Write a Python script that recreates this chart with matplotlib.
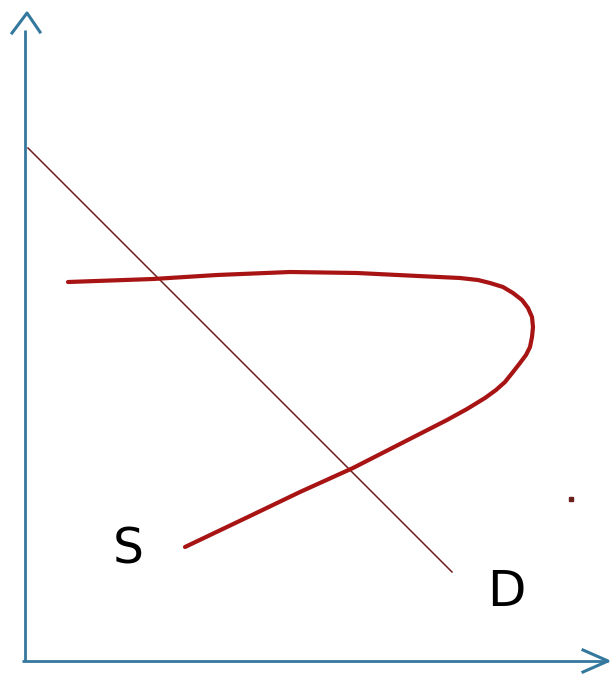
import numpy as np
from matplotlib import pyplot as plt

# backward-bending supply curve (quantity, price), origin at the axes corner
supply_q = [43, 128, 192, 265, 332, 393, 435, 453, 465, 478, 488, 497, 503,
            507, 508, 507, 505, 501, 495, 488, 480, 471, 460, 442, 422, 375,
            328, 275, 225, 160]
supply_p = [379, 382, 386, 389, 388, 385, 383, 381, 378, 374, 368, 361, 353,
            344, 334, 324, 314, 306, 298, 289, 279, 271, 263, 252, 241, 217,
            193, 169, 145, 114]

# straight demand line
demand_q = [3, 427]
demand_p = [513, 89]

# axes with hand-drawn arrow heads
y_axis_q = [0, 0]
y_axis_p = [0, 631]
y_arrow_q = [-13, 2, 15]
y_arrow_p = [628, 648, 629]
x_axis_q = [-3, 583]
x_axis_p = [0, 0]
x_arrow_q = [558, 583, 558]
x_arrow_p = [11, 0, -11]

# stray dot and curve labels
dot_q, dot_p = 546, 162
labels = ['S', 'D']
label_q = [103, 481]
label_p = [112, 69]
label_size = [35, 36]

axis_color = '#35789e'
supply_color = '#a81414'
demand_color = '#6b1f1f'

fig = plt.figure(figsize=(6.12, 6.75), dpi=100)
ax = fig.add_axes([0, 0, 1, 1])
ax.set_xlim(-25, 587)
ax.set_ylim(-14, 661)
ax.axis('off')

ax.plot(y_axis_q, y_axis_p, color=axis_color, lw=2.0, solid_capstyle='butt')
ax.plot(x_axis_q, x_axis_p, color=axis_color, lw=2.0, solid_capstyle='butt')
ax.plot(y_arrow_q, y_arrow_p, color=axis_color, lw=2.2)
ax.plot(x_arrow_q, x_arrow_p, color=axis_color, lw=2.2)

ax.plot(demand_q, demand_p, color=demand_color, lw=1.1)
ax.plot(supply_q, supply_p, color=supply_color, lw=3.0,
        solid_joinstyle='round', solid_capstyle='round')

ax.plot([dot_q], [dot_p], 's', color=demand_color, ms=2.5)

for txt, q, p, size in zip(labels, label_q, label_p, label_size):
    ax.text(q, p, txt, fontsize=size, ha='center', va='center',
            family='DejaVu Sans', color='black')

fig.savefig('out.png', dpi=100)
